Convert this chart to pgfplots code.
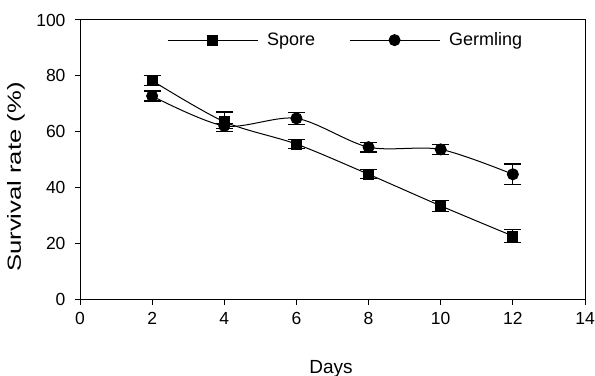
\documentclass[border=0pt]{standalone}
\usepackage{pgfplots}
\pgfplotsset{compat=1.18}
\usepackage{fontspec}
\setmainfont{Liberation Sans}
\begin{document}
\begin{tikzpicture}
\path[use as bounding box] (0,0) rectangle (595bp,376bp);
\begin{axis}[
  at={(80bp,76.5bp)}, anchor=south west,
  scale only axis, width=505bp, height=279.5bp,
  xmin=0, xmax=14, ymin=0, ymax=100,
  xtick={0,2,...,14}, ytick={0,20,...,100},
  tick pos=left, tick align=outside, major tick length=5bp,
  axis line style={line width=1bp}, tick style={line width=1bp, black},
  /pgf/number format/assume math mode=true,
  tick label style={font=\fontsize{17.5bp}{20bp}\selectfont},
  xticklabel style={yshift=-4bp},
  yticklabel style={xshift=-6bp},
  xlabel={Days}, ylabel={Survival rate (\%)},
  xlabel style={at={(axis description cs:0.497,-0.263)}, anchor=base, font=\fontsize{19bp}{22bp}\selectfont},
  ylabel style={at={(axis description cs:-0.127,0.438)}, anchor=center, font=\fontsize{19bp}{22bp}\selectfont, xscale=1.35},
  legend style={at={(axis description cs:0.172,0.928)}, anchor=west, draw=none, fill=none,
    font=\fontsize{18bp}{21bp}\selectfont, inner sep=0pt,
    /tikz/every even column/.append style={column sep=32bp},
    /tikz/every odd column/.append style={column sep=7bp}},
  legend columns=2,
  legend cell align=left,
  legend image code/.code={\draw[mark repeat=2,mark phase=2] plot coordinates {(0bp,0bp) (45bp,0bp) (90bp,0bp)};},
]
\addplot[black, line width=1bp, smooth, mark=square*, mark size=5bp, mark options={solid},
  error bars/.cd, y dir=both, y explicit, error mark=|, error bar style={line width=1bp, black}, error mark options={line width=1.2bp, mark size=8.5bp, black}]
  coordinates {
  (2,78.3) +- (0,1.7)
  (4,63.6) +- (0,3.5)
  (6,55.6) +- (0,1.6)
  (8,44.8) +- (0,1.6)
  (10,33.5) +- (0,2.0)
  (12,22.7) +- (0,2.3)
  };
\addlegendentry{Spore}
\addplot[black, line width=1bp, smooth, mark=*, mark size=5.5bp, mark options={solid},
  error bars/.cd, y dir=both, y explicit, error mark=|, error bar style={line width=1bp, black}, error mark options={line width=1.2bp, mark size=8.5bp, black}]
  coordinates {
  (2,72.8) +- (0,1.8)
  (4,62.1) +- (0,1.0)
  (6,64.8) +- (0,2.2)
  (8,54.5) +- (0,1.7)
  (10,53.7) +- (0,1.8)
  (12,44.8) +- (0,3.7)
  };
\addlegendentry{Germling}
\end{axis}
\end{tikzpicture}
\end{document}
